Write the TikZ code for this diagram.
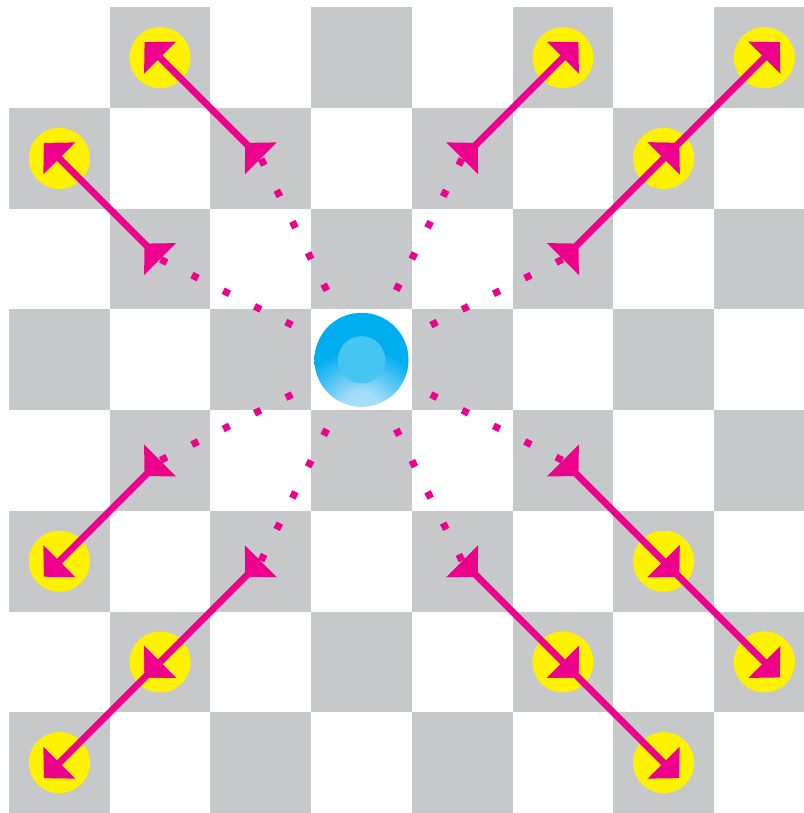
\documentclass[tikz,border=0pt]{standalone}
\usetikzlibrary{arrows.meta}
\definecolor{boardgray}{RGB}{199,200,202}
\definecolor{hopmagenta}{RGB}{236,0,140}
\definecolor{goalyellow}{RGB}{255,242,0}
\definecolor{pieceblue}{RGB}{0,174,239}
\definecolor{piececore}{RGB}{69,198,242}
\definecolor{piecelight}{RGB}{165,220,248}
\pgfdeclareradialshading{piecefan}{\pgfpoint{0bp}{0bp}}{%
  color(0bp)=(piecelight); color(4bp)=(piecelight);
  color(15bp)=(pieceblue); color(50bp)=(pieceblue)}
\tikzset{
    board diagram/.style = {x=1cm, y=1cm},
    dark/.style          = {fill=boardgray},
    goal/.style          = {circle, fill=goalyellow, minimum size=6.06mm,
                            inner sep=0pt, outer sep=0pt},
    piece/.style         = {circle, minimum size=9.34mm,
                            inner sep=0pt, outer sep=0pt,
                            path picture={
                              \shade[shading=piecefan]
                                ([yshift=-4.67mm]path picture bounding box.center)
                                ellipse (11mm and 9.5mm);
                              \fill[piececore] (path picture bounding box.center)
                                circle (2.35mm);}},
    trail/.style         = {draw=hopmagenta, line width=1.98pt, shorten <=1pt,
                            dash pattern=on 1.98pt off 7.91pt, dash phase=2.26pt},
    hop/.style           = {draw=hopmagenta, line width=1.9pt,
                            {Triangle[reversed, length=6.2pt, width=12.4pt]}-{Triangle[length=6.2pt, width=12.4pt]},
                            shorten >=-6.2pt}
}

\begin{document}
\begin{tikzpicture}[board diagram]
\useasboundingbox (-0.0894,-8) rectangle (7.885,0.0725);

% ================= Board =================
\foreach \c in {0,...,7}
  \foreach \r in {0,...,7}
    {\ifodd\numexpr\c+\r\relax \fill[dark] (\c,-\r) rectangle ++(1,-1); \fi}

% ================= Target squares =================
\foreach \name/\c/\r in {g10/1/0, g50/5/0, g70/7/0, g01/0/1, g61/6/1,
                         g05/0/5, g65/6/5, g16/1/6, g56/5/6, g76/7/6,
                         g07/0/7, g67/6/7}
  \node[goal] (\name) at (\c+0.5,-\r-0.5) {};

% ================= Knight squares =================
\foreach \name/\c/\r in {k21/2/1, k41/4/1, k12/1/2, k52/5/2,
                         k14/1/4, k54/5/4, k25/2/5, k45/4/5}
  \coordinate (\name) at (\c+0.5,-\r-0.5);

% ================= Piece and leaps =================
\node[piece] (piece) at (3.5,-3.5) {};
\foreach \k in {k21,k41,k12,k52,k14,k54,k25,k45}
  \draw[trail] (piece) -- (\k);

% ================= Diagonal runs =================
\foreach \a/\b in {k21/g10, k12/g01, k41/g50, k52/g61, g61/g70,
                   k14/g05, k25/g16, g16/g07, k45/g56, g56/g67,
                   k54/g65, g65/g76}
  \draw[hop] (\a.center) -- (\b.center);

\end{tikzpicture}
\end{document}
